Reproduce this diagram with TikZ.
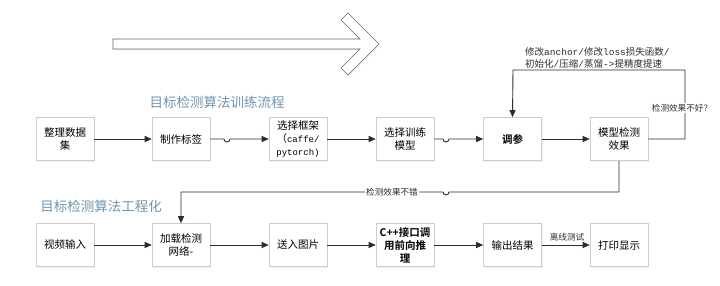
\documentclass[tikz,border=0pt]{standalone}
\usepackage{fontspec}
\setmainfont{Noto Sans CJK SC}[BoldFont={Noto Sans CJK SC Bold}]
\newfontfamily\monofont{Liberation Mono}
\usetikzlibrary{arrows.meta,shadows}
\definecolor{lineg}{RGB}{45,45,45}
\definecolor{boxb}{RGB}{205,205,205}
\definecolor{ttl}{RGB}{112,150,178}
\tikzset{
  box/.style={draw=boxb, line width=0.6pt, fill=white, minimum width=58pt, minimum height=43pt,
    inner sep=1pt, align=center, font=\fontsize{10.5}{13}\selectfont,
    drop shadow={opacity=0.12, shadow xshift=1.2pt, shadow yshift=-1.2pt}},
  arr/.style={draw=lineg, line width=0.9pt, -{Triangle[length=7pt,width=6pt]}},
  ln/.style={draw=lineg, line width=0.9pt},
  lbl/.style={fill=white, inner sep=1pt, font=\fontsize{8.6}{10}\selectfont, text=lineg},
  title/.style={text=ttl, font=\fontsize{13.5}{16}\selectfont, inner sep=0pt}
}
\begin{document}
\begin{tikzpicture}[x=1pt,y=-1pt]
\useasboundingbox[fill=white] (0,0) rectangle (720,285);

% big hollow arrow
\draw[draw=black!60, line width=0.6pt, fill=white, drop shadow={opacity=0.1, shadow xshift=1pt, shadow yshift=-1.5pt}]
  (113,39) -- (360,39) -- (341,20) -- (348,13) -- (379,44) -- (348,75) -- (341,68) -- (360,49) -- (113,49) -- cycle;

% titles
\node[title] (t1) at (217,102) {目标检测算法训练流程};
\node[title] (t2) at (101,206) {目标检测算法工程化};

% top row
\node[box] (ds) at (65,139) {整理数据\\集};
\node[box] (lab) at (181,139) {制作标签};
\node[box] (fw) at (298,139) {选择框架\\{（\monofont\fontsize{9}{12}\selectfont caffe/}\\{\monofont\fontsize{9}{12}\selectfont pytorch)}};
\node[box] (tm) at (405,139) {选择训练\\模型};
\node[box] (tune) at (512.5,139) {\bfseries 调参};
\node[box] (eval) at (619,139) {模型检测\\效果};

% bottom row
\node[box] (vid) at (65,245) {视频输入};
\node[box] (load) at (181,245) {加载检测\\网络-};
\node[box] (send) at (298,245) {送入图片};
\node[box] (cpp) at (405,245) {\bfseries C++接口调\\\bfseries 用前向推\\\bfseries 理};
\node[box] (out) at (512.5,245) {输出结果};
\node[box] (show) at (619,245) {打印显示};

% top row arrows
\draw[arr] (ds.east) -- (lab.west);
\draw[arr] (lab.east) -- (224,139) arc[start angle=180, end angle=0, radius=3] -- (fw.west);
\draw[arr] (fw.east) -- (tm.west);
\draw[arr] (tm.east) -- (443,139) arc[start angle=180, end angle=0, radius=3] -- (tune.west);
\draw[arr] (tune.east) -- (eval.west);

% feedback loop (not good)
\coordinate (c1) at (685,139);
\coordinate (c2) at (685,70);
\coordinate (c3) at (513,70);
\draw[arr] (eval.east) -- (c1) -- (c2) -- (c3) -- (tune.north);
\node[lbl] (bad) at (682,108) {检测效果不好？};
\node[anchor=south west, inner sep=0pt, align=left, font=\fontsize{9.5}{12}\selectfont, text=lineg] (mod) at (525,69)
  {修改{\monofont anchor/}修改{\monofont loss}损失函数{\monofont /}\\初始化{\monofont /}压缩{\monofont /}蒸馏{\monofont ->}提精度提速};

% feedback (good) to engineering row
\coordinate (d1) at (619,192);
\coordinate (d2) at (181,192);
\draw[arr] (eval.south) -- (d1) -- (449,192) arc[start angle=0, end angle=180, radius=3] -- (d2) -- (load.north);
\node[lbl] (good) at (392,192) {检测效果不错};

% bottom row arrows
\draw[arr] (vid.east) -- (load.west);
\draw[arr] (load.east) -- (send.west);
\draw[arr] (send.east) -- (cpp.west);
\draw[arr] (cpp.east) -- (out.west);
\draw[arr] (out.east) -- (show.west);
\node[font=\fontsize{8.6}{10}\selectfont, text=lineg, inner sep=1pt] (off) at (567,237) {离线测试};
\end{tikzpicture}
\end{document}
